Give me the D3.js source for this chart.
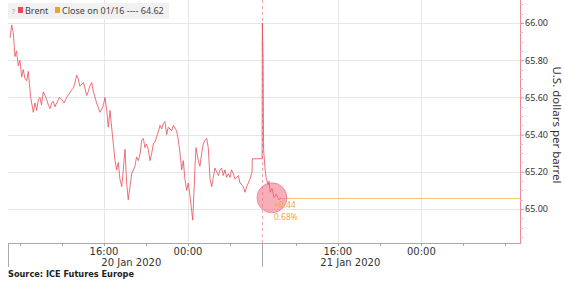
<!DOCTYPE html>
<html>
<head>
<meta charset="utf-8">
<script src="https://cdn.jsdelivr.net/npm/d3@7"></script>
<style>
  body { margin: 0; background: #fff; }
  svg { display: block; }
</style>
</head>
<body>
<svg id="chart" width="565" height="285"></svg>
<script>
'use strict';

// hours counted from midnight of the first session day
const brentHours = [
    7.05, 7.21, 7.36, 7.52, 7.67, 7.84, 8.00, 8.16, 8.31, 8.48,
    8.64, 8.79, 9.02, 9.27, 9.43, 9.59, 9.76, 9.90, 10.05, 10.22,
    10.38, 10.54, 10.70, 10.86, 11.02, 11.17, 11.33, 11.50, 11.75, 11.97,
    12.20, 12.45, 12.92, 13.08, 13.24, 13.40, 13.55, 13.70, 13.88, 14.05,
    14.19, 14.35, 14.50, 14.65, 14.83, 14.95, 15.30, 15.62, 15.90, 16.10,
    16.26, 16.41, 16.57, 16.73, 16.89, 17.05, 17.21, 17.36, 17.52, 17.69,
    17.84, 18.00, 18.16, 18.31, 18.48, 18.64, 18.95, 19.10, 19.27, 19.45,
    19.59, 19.75, 19.90, 20.05, 20.22, 20.38, 20.55, 20.70, 20.85, 21.02,
    21.20, 21.33, 21.50, 21.65, 21.80, 21.97, 22.12, 22.45, 22.60, 22.92,
    23.08, 23.24, 23.40, 23.55, 23.71, 23.88, 24.03, 24.19, 24.35, 24.45,
    24.57, 24.67, 24.76, 24.98, 25.14, 25.30, 25.46, 25.62, 25.78, 25.93,
    26.03, 26.10, 26.26, 26.41, 26.57, 26.73, 26.90, 27.05, 27.20, 27.36,
    27.52, 27.68, 27.84, 28.00, 28.15, 28.31, 28.48, 28.64, 28.80, 28.95,
    29.27, 29.43, 29.59, 29.90, 30.10, 30.12, 30.95,
    32.76, 32.78, 32.86, 32.90, 33.05, 33.14, 33.33, 33.43, 33.52, 33.71,
    33.90, 34.10, 34.38, 34.57];
const brentPrices = [
    65.92, 65.99, 65.95, 65.82, 65.85, 65.77, 65.80, 65.71, 65.75, 65.70,
    65.69, 65.74, 65.60, 65.52, 65.57, 65.53, 65.59, 65.60, 65.56, 65.63,
    65.61, 65.59, 65.56, 65.54, 65.57, 65.58, 65.55, 65.57, 65.60, 65.59,
    65.57, 65.60, 65.64, 65.65, 65.68, 65.72, 65.70, 65.66, 65.67, 65.68,
    65.65, 65.61, 65.63, 65.66, 65.68, 65.64, 65.57, 65.52, 65.55, 65.60,
    65.53, 65.44, 65.53, 65.44, 65.35, 65.26, 65.21, 65.25, 65.16, 65.12,
    65.21, 65.32, 65.14, 65.05, 65.12, 65.19, 65.23, 65.28, 65.26, 65.30,
    65.37, 65.38, 65.33, 65.35, 65.32, 65.26, 65.30, 65.35, 65.36, 65.39,
    65.42, 65.45, 65.43, 65.46, 65.47, 65.40, 65.44, 65.42, 65.45, 65.42,
    65.37, 65.30, 65.21, 65.26, 65.16, 65.10, 65.14, 65.07, 64.99, 64.94,
    65.09, 65.23, 65.33, 65.26, 65.23, 65.30, 65.35, 65.37, 65.38, 65.33,
    65.23, 65.16, 65.12, 65.17, 65.22, 65.20, 65.18, 65.21, 65.22, 65.18,
    65.21, 65.17, 65.19, 65.17, 65.21, 65.19, 65.16, 65.17, 65.18, 65.14,
    65.12, 65.09, 65.12, 65.16, 65.20, 65.27, 65.27,
    65.27, 66.00, 65.80, 65.32, 65.21, 65.17, 65.13, 65.15, 65.09, 65.11,
    65.06, 65.08, 65.05, 65.06];

const lastPrice = 65.06;
const lastHour = 34.6;
const markerHour = 33.7;
const changeLabels = ["+0.44", "0.68%"];

const yTicks = [65.00, 65.20, 65.40, 65.60, 65.80, 66.00];
const yMinorTicks = [64.85, 64.90, 64.95, 65.05, 65.10, 65.15, 65.25, 65.30, 65.35, 65.45, 65.50, 65.55,
    65.65, 65.70, 65.75, 65.85, 65.90, 65.95, 66.05, 66.10];
const xMinorTicks = [8, 12, 16, 20, 24, 28, 36, 40, 44, 48, 52, 56];
const xLabelHours = [16, 24, 40, 48];
const xLabels = ["16:00", "00:00", "16:00", "00:00"];
const dateHours = [18.6, 41.2];
const dateLabels = ["20 Jan 2020", "21 Jan 2020"];
const gridHours = [16, 24, 40, 48];
const sessionBreak = [31, 32.75];

const svg = d3.select("#chart");
const plotLeft = 8, plotRight = 520, plotTop = 0, plotBottom = 243;

// the session break is squeezed to zero width
const x = d3.scaleLinear()
    .domain([6.86, sessionBreak[0], sessionBreak[1], 57.43])
    .range([plotLeft, 261.5, 262, plotRight]);
const y = d3.scaleLinear()
    .domain([64.817, 66.124])
    .range([plotBottom, plotTop]);

// horizontal grid
svg.append("g").selectAll("line")
    .data(yTicks)
    .enter().append("line")
    .attr("x1", plotLeft).attr("x2", plotRight)
    .attr("y1", d => Math.round(y(d)) + 0.5).attr("y2", d => Math.round(y(d)) + 0.5)
    .attr("stroke", "#e6e6e6");

// vertical grid
svg.append("g").selectAll("line")
    .data(gridHours)
    .enter().append("line")
    .attr("x1", d => Math.round(x(d)) + 0.5).attr("x2", d => Math.round(x(d)) + 0.5)
    .attr("y1", plotTop).attr("y2", plotBottom)
    .attr("stroke", "#e6e6e6");

// day divider
const breakX = Math.round(x(sessionBreak[1])) + 0.5;
svg.append("line")
    .attr("x1", breakX).attr("x2", breakX)
    .attr("y1", plotTop).attr("y2", plotBottom)
    .attr("stroke", "#f0a8b0")
    .attr("stroke-dasharray", "3,3");

// close line
svg.append("line")
    .attr("x1", x(lastHour)).attr("x2", plotRight)
    .attr("y1", Math.round(y(lastPrice)) + 0.5).attr("y2", Math.round(y(lastPrice)) + 0.5)
    .attr("stroke", "#f3c47a");

// price line
const line = d3.line()
    .x((d, i) => x(brentHours[i]))
    .y(d => y(d));

svg.append("path")
    .datum(brentPrices)
    .attr("d", line)
    .attr("fill", "none")
    .attr("stroke", "#ea4c57")
    .attr("stroke-opacity", 0.8)
    .attr("stroke-width", 1);

// last price marker
svg.append("circle")
    .attr("cx", x(markerHour))
    .attr("cy", y(lastPrice))
    .attr("r", 15)
    .attr("fill", "#f06b7e")
    .attr("fill-opacity", 0.55)
    .attr("stroke", "#ef6a7c")
    .attr("stroke-opacity", 0.6);

svg.append("g").selectAll("text")
    .data(changeLabels)
    .enter().append("text")
    .attr("x", x(markerHour) + 2)
    .attr("y", (d, i) => y(lastPrice) + 10 + i * 12)
    .attr("font-family", "Noto Sans")
    .attr("font-size", "8.5px")
    .attr("fill", "#f0a93a")
    .text(d => d);

// right y axis
svg.append("line")
    .attr("x1", plotRight + 0.5).attr("x2", plotRight + 0.5)
    .attr("y1", plotTop).attr("y2", plotBottom + 1)
    .attr("stroke", "#f08a98");

svg.append("g").selectAll("line")
    .data(yMinorTicks)
    .enter().append("line")
    .attr("x1", plotRight).attr("x2", plotRight + 3)
    .attr("y1", d => Math.round(y(d)) + 0.5).attr("y2", d => Math.round(y(d)) + 0.5)
    .attr("stroke", "#f4b0b8");

const yAxis = svg.append("g")
    .attr("transform", "translate(" + plotRight + ",0)")
    .call(d3.axisRight(y).tickValues(yTicks).tickFormat(d3.format(".2f")).tickSize(4).tickPadding(1));
yAxis.select(".domain").remove();
yAxis.selectAll(".tick line").attr("stroke", "#f08a98");
yAxis.selectAll("text")
    .attr("font-family", "Noto Sans")
    .attr("font-size", "9px")
    .attr("fill", "#333");

svg.append("text")
    .attr("transform", "translate(553,125) rotate(90)")
    .attr("text-anchor", "middle")
    .attr("font-family", "Noto Sans")
    .attr("font-size", "11.5px")
    .attr("fill", "#333")
    .text("U.S. dollars per barrel");

// bottom x axis
svg.append("line")
    .attr("x1", plotLeft).attr("x2", plotRight)
    .attr("y1", plotBottom + 0.5).attr("y2", plotBottom + 0.5)
    .attr("stroke", "#a8a8a8");

svg.append("g").selectAll("line")
    .data(xMinorTicks)
    .enter().append("line")
    .attr("x1", d => Math.round(x(d)) + 0.5).attr("x2", d => Math.round(x(d)) + 0.5)
    .attr("y1", plotBottom).attr("y2", plotBottom + 3)
    .attr("stroke", "#a8a8a8");

[plotLeft, breakX].forEach(function (bx) {
    svg.append("line")
        .attr("x1", Math.floor(bx) + 0.5).attr("x2", Math.floor(bx) + 0.5)
        .attr("y1", plotBottom).attr("y2", 267)
        .attr("stroke", "#a8a8a8");
});

svg.append("g").selectAll("text")
    .data(xLabels)
    .enter().append("text")
    .attr("x", (d, i) => x(xLabelHours[i]))
    .attr("y", 255)
    .attr("text-anchor", "middle")
    .attr("font-family", "DejaVu Sans")
    .attr("font-size", "10px")
    .attr("fill", "#333")
    .text(d => d);

svg.append("g").selectAll("text")
    .data(dateLabels)
    .enter().append("text")
    .attr("x", (d, i) => x(dateHours[i]))
    .attr("y", 266)
    .attr("text-anchor", "middle")
    .attr("font-family", "DejaVu Sans")
    .attr("font-size", "10px")
    .attr("fill", "#333")
    .text(d => d);

svg.append("text")
    .attr("x", 8)
    .attr("y", 277)
    .attr("font-family", "DejaVu Sans")
    .attr("font-weight", "bold")
    .attr("font-size", "8.2px")
    .attr("fill", "#222")
    .text("Source: ICE Futures Europe");

// legend
const legend = svg.append("g");
legend.append("rect")
    .attr("x", 8).attr("y", 3)
    .attr("width", 161).attr("height", 16)
    .attr("fill", "#f1f1f1");
legend.append("text")
    .attr("x", 12).attr("y", 14)
    .attr("font-family", "Noto Sans")
    .attr("font-size", "7px")
    .attr("fill", "#aaa")
    .text("?");
legend.append("rect")
    .attr("x", 18).attr("y", 7)
    .attr("width", 5).attr("height", 6)
    .attr("fill", "#ea4c57");
legend.append("text")
    .attr("x", 25).attr("y", 14)
    .attr("font-family", "Noto Sans")
    .attr("font-size", "9px")
    .attr("fill", "#444")
    .text("Brent");
legend.append("rect")
    .attr("x", 55).attr("y", 7)
    .attr("width", 5).attr("height", 6)
    .attr("fill", "#f0a030");
legend.append("text")
    .attr("x", 62).attr("y", 14)
    .attr("font-family", "Noto Sans")
    .attr("font-size", "9px")
    .attr("fill", "#444")
    .text("Close on 01/16 ---- 64.62");
</script>
</body>
</html>
